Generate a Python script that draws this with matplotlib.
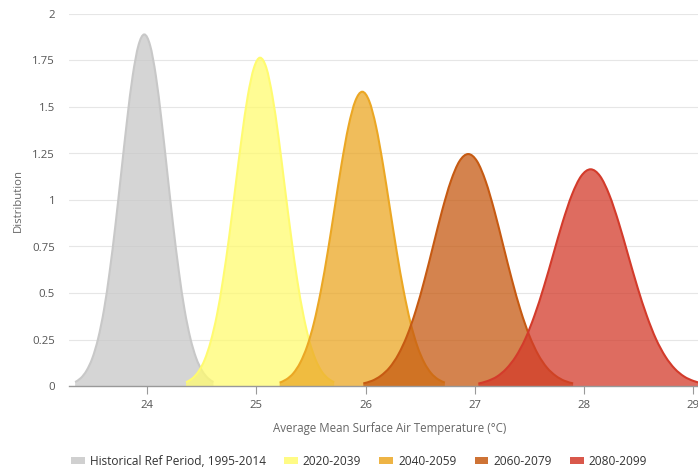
import matplotlib
matplotlib.use('Agg')
import matplotlib.pyplot as plt
from matplotlib.path import Path
from matplotlib.patches import PathPatch, Patch

plt.rcParams['font.family'] = ['Open Sans', 'DejaVu Sans']

# series labels and colours
labels = ['Historical Ref Period, 1995-2014', '2020-2039', '2040-2059', '2060-2079', '2080-2099']
colors = ['#c8c8c8', '#fffb70', '#eba724', '#c65a12', '#d33b2b']

# distribution curves
hist_x = [23.342, 23.395, 23.447, 23.500, 23.553, 23.606, 23.658, 23.711, 23.764, 23.817, 23.869, 23.922, 23.975,
          24.028, 24.081, 24.133, 24.186, 24.239, 24.292, 24.344, 24.397, 24.450, 24.503, 24.555, 24.608]
hist_y = [0.021, 0.043, 0.083, 0.150, 0.256, 0.409, 0.614, 0.865, 1.146, 1.427, 1.668, 1.832, 1.890,
          1.832, 1.668, 1.427, 1.146, 0.865, 0.614, 0.409, 0.256, 0.150, 0.083, 0.043, 0.021]

p2020_x = [24.357, 24.414, 24.470, 24.527, 24.583, 24.640, 24.696, 24.753, 24.809, 24.866, 24.922, 24.979, 25.035,
           25.092, 25.148, 25.205, 25.261, 25.318, 25.374, 25.431, 25.487, 25.544, 25.600, 25.657, 25.713]
p2020_y = [0.020, 0.040, 0.077, 0.140, 0.239, 0.382, 0.573, 0.808, 1.070, 1.332, 1.558, 1.711, 1.765,
           1.711, 1.558, 1.332, 1.070, 0.808, 0.573, 0.382, 0.239, 0.140, 0.077, 0.040, 0.020]

p2040_x = [25.214, 25.277, 25.340, 25.403, 25.466, 25.529, 25.592, 25.655, 25.718, 25.781, 25.844, 25.907, 25.970,
           26.033, 26.096, 26.159, 26.222, 26.285, 26.348, 26.411, 26.474, 26.537, 26.600, 26.663, 26.726]
p2040_y = [0.018, 0.036, 0.069, 0.126, 0.214, 0.342, 0.514, 0.724, 0.959, 1.194, 1.396, 1.533, 1.582,
           1.533, 1.396, 1.194, 0.959, 0.724, 0.514, 0.342, 0.214, 0.126, 0.069, 0.036, 0.018]

p2060_x = [25.98, 26.06, 26.14, 26.22, 26.30, 26.38, 26.46, 26.54, 26.62, 26.70, 26.78, 26.86, 26.94,
           27.02, 27.10, 27.18, 27.26, 27.34, 27.42, 27.50, 27.58, 27.66, 27.74, 27.82, 27.90]
p2060_y = [0.014, 0.028, 0.055, 0.099, 0.169, 0.270, 0.405, 0.571, 0.756, 0.941, 1.100, 1.209, 1.247,
           1.209, 1.100, 0.941, 0.756, 0.571, 0.405, 0.270, 0.169, 0.099, 0.055, 0.028, 0.014]

p2080_x = [27.033, 27.118, 27.204, 27.289, 27.375, 27.461, 27.546, 27.632, 27.718, 27.803, 27.889, 27.974, 28.060,
           28.146, 28.231, 28.317, 28.402, 28.488, 28.574, 28.659, 28.745, 28.830, 28.916, 29.002, 29.087]
p2080_y = [0.013, 0.027, 0.051, 0.093, 0.158, 0.252, 0.378, 0.533, 0.707, 0.879, 1.028, 1.129, 1.165,
           1.129, 1.028, 0.879, 0.707, 0.533, 0.378, 0.252, 0.158, 0.093, 0.051, 0.027, 0.013]

series = [(hist_x, hist_y), (p2020_x, p2020_y), (p2040_x, p2040_y), (p2060_x, p2060_y), (p2080_x, p2080_y)]

x_ticks = [24, 25, 26, 27, 28, 29]
y_ticks = [0, 0.25, 0.5, 0.75, 1, 1.25, 1.5, 1.75, 2]
y_tick_labels = ['0', '0.25', '0.5', '0.75', '1', '1.25', '1.5', '1.75', '2']


def spline_verts(xs, ys):
    # catmull-rom style bezier through the points (like a spline series)
    pts = list(zip(xs, ys))
    verts = [pts[0]]
    codes = [Path.MOVETO]
    n = len(pts)
    for i in range(n - 1):
        p0 = pts[max(i - 1, 0)]
        p1 = pts[i]
        p2 = pts[i + 1]
        p3 = pts[min(i + 2, n - 1)]
        c1 = (p1[0] + (p2[0] - p0[0]) / 6, p1[1] + (p2[1] - p0[1]) / 6)
        c2 = (p2[0] - (p3[0] - p1[0]) / 6, p2[1] - (p3[1] - p1[1]) / 6)
        verts += [c1, c2, p2]
        codes += [Path.CURVE4] * 3
    return verts, codes


fig = plt.figure(figsize=(6.98, 4.69), dpi=100)
ax = fig.add_axes([69 / 698, 83 / 469, 629 / 698, 372 / 469])

for (xs, ys), col in zip(series, colors):
    verts, codes = spline_verts(xs, ys)
    line = PathPatch(Path(verts, codes), facecolor='none', edgecolor=col, lw=1.5, zorder=3)
    fverts = verts + [(xs[-1], 0), (xs[0], 0), verts[0]]
    fcodes = codes + [Path.LINETO, Path.LINETO, Path.CLOSEPOLY]
    fill = PathPatch(Path(fverts, fcodes), facecolor=col, edgecolor='none', alpha=0.75, zorder=3)
    ax.add_patch(fill)
    ax.add_patch(line)

ax.set_xlim(23.286, 29.043)
ax.set_ylim(0, 2)
ax.set_xticks(x_ticks)
ax.set_yticks(y_ticks)
ax.set_yticklabels(y_tick_labels)

ax.set_axisbelow(True)
ax.yaxis.grid(True, color='#e6e6e6', lw=0.8)
for s in ['top', 'right', 'left']:
    ax.spines[s].set_visible(False)
ax.spines['bottom'].set_color('#999999')
ax.spines['bottom'].set_linewidth(1.0)
ax.spines['bottom'].set_zorder(5)

ax.tick_params(axis='x', length=6, width=0.8, color='#999999', pad=4, labelsize=8.2, labelcolor='#555555')
ax.tick_params(axis='y', length=0, pad=10, labelsize=8.2, labelcolor='#555555')

fig.text(390 / 698, 1 - 428 / 469, 'Average Mean Surface Air Temperature (°C)', ha='center', va='center',
         fontsize=8.3, color='#666666')
fig.text(18 / 698, 1 - 200 / 469, 'Distribution', ha='center', va='center', rotation=90,
         fontsize=8.2, color='#666666')

handles = [Patch(facecolor=c, edgecolor='none', alpha=0.85) for c in colors]
fig.legend(handles, labels, loc='center', bbox_to_anchor=(359 / 698, 1 - 461 / 469), ncol=5, frameon=False,
           fontsize=8.6, handlelength=1.15, handleheight=0.5, handletextpad=0.4, columnspacing=1.55,
           labelcolor='#333333')

fig.savefig('out.png', dpi=100)
